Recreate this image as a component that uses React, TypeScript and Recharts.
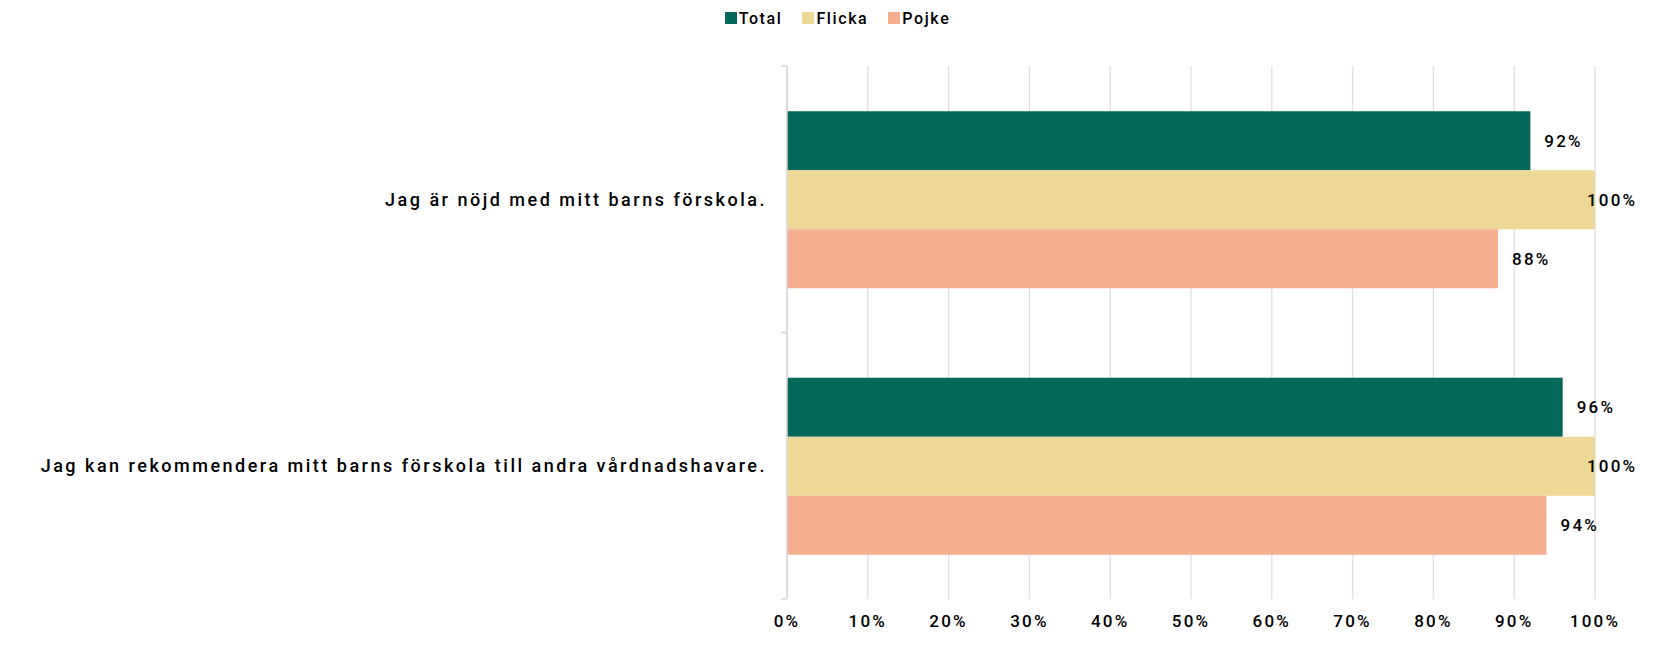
import { BarChart, Bar, XAxis, YAxis, CartesianGrid, Legend, LabelList } from "recharts";

const questions = [
  "Jag är nöjd med mitt barns förskola.",
  "Jag kan rekommendera mitt barns förskola till andra vårdnadshavare.",
];
const total = [0.92, 0.96];
const flicka = [1.0, 1.0];
const pojke = [0.88, 0.94];
const xTicks = [0, 0.1, 0.2, 0.3, 0.4, 0.5, 0.6, 0.7, 0.8, 0.9, 1];

const series = [
  { key: "Total", color: "#02695A" },
  { key: "Flicka", color: "#EDD898" },
  { key: "Pojke", color: "#F5AE90" },
];

const data = questions.map((q, i) => ({
  name: q,
  Total: total[i],
  Flicka: flicka[i],
  Pojke: pojke[i],
}));

const FONT = "Roboto, 'Liberation Sans', sans-serif";
const pct = (v: number) => `${Math.round(v * 100)}%`;
const textStyle = { fill: "#000", fontSize: 17, fontFamily: FONT, fontWeight: 500, letterSpacing: 2.2 };

// Excel puts the label inside the bar end when it would run off the plot
const ValueLabel = (props: any) => {
  const { x, y, width, height, value } = props;
  const inside = value >= 1;
  return (
    <text
      x={inside ? x + width - 8 : x + width + 14}
      y={y + height / 2}
      dy="0.35em"
      {...textStyle}
    >
      {pct(value)}
    </text>
  );
};

// category label plus the little Excel tick marks at the band edges
const CategoryTick = (props: any) => {
  const { x, y, payload } = props;
  const axisX = x + 20;
  const half = payload.offset || 0;
  return (
    <g>
      <line x1={axisX - 6} x2={axisX} y1={y - half} y2={y - half} stroke="#D9D9D9" strokeWidth={1.5} />
      <line x1={axisX - 6} x2={axisX} y1={y + half} y2={y + half} stroke="#D9D9D9" strokeWidth={1.5} />
      <text x={x} y={y} dy="0.35em" textAnchor="end" {...textStyle} fontSize={18} letterSpacing={2.5}>
        {payload.value}
      </text>
    </g>
  );
};

const LegendContent = () => (
  <div
    style={{
      display: "flex",
      justifyContent: "center",
      alignItems: "center",
      height: 24,
      fontFamily: FONT,
      fontWeight: 500,
      fontSize: 16,
      letterSpacing: 1.6,
    }}
  >
    {series.map((s, i) => (
      <div
        key={s.key}
        style={{ display: "flex", alignItems: "center", marginRight: i < series.length - 1 ? 20 : 0 }}
      >
        <span style={{ width: 12, height: 12, background: s.color, marginRight: 2, display: "inline-block" }} />
        <span style={{ color: "#000" }}>{s.key}</span>
      </div>
    ))}
  </div>
);

export default function App() {
  return (
    <div style={{ margin: -8, background: "#fff", width: 1675, height: 651 }}>
      <BarChart
        width={1675}
        height={651}
        data={data}
        layout="vertical"
        margin={{ top: 42, right: 80, bottom: 22, left: 0 }}
        barCategoryGap="17%"
        barGap={0}
      >
        <CartesianGrid horizontal={false} stroke="#E3E3E3" strokeWidth={1.5} />
        <XAxis
          type="number"
          domain={[0, 1]}
          ticks={xTicks}
          tickFormatter={pct}
          axisLine={false}
          tickLine={false}
          tickMargin={10}
          interval={0}
          tick={textStyle}
        />
        <YAxis
          type="category"
          dataKey="name"
          width={787}
          axisLine={{ stroke: "#D9D9D9", strokeWidth: 1.5 }}
          tickLine={false}
          tickMargin={14}
          tick={<CategoryTick />}
        />
        <Legend
          verticalAlign="top"
          content={<LegendContent />}
          wrapperStyle={{ top: 6, left: 0, width: 1675 }}
        />
        {series.map((s) => (
          <Bar key={s.key} dataKey={s.key} fill={s.color} isAnimationActive={false}>
            <LabelList dataKey={s.key} content={<ValueLabel />} />
          </Bar>
        ))}
      </BarChart>
    </div>
  );
}
